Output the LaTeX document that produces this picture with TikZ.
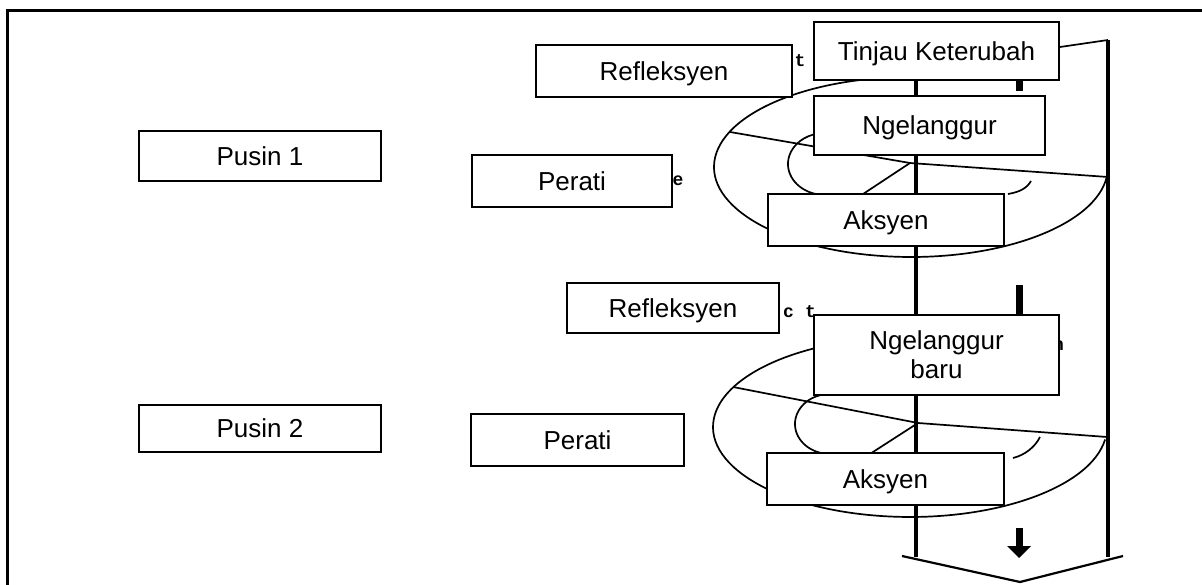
\documentclass[tikz,border=0pt]{standalone}
\usepackage{fontspec}
\setmainfont{Liberation Sans}
\newfontfamily\fragfont{Liberation Mono}
\usetikzlibrary{calc}
\pgfdeclarelayer{background}
\pgfsetlayers{background,main}
\begin{document}
\begin{tikzpicture}[x=1pt,y=-1pt,
  bx/.style={draw, line width=2pt, fill=white, inner sep=0pt,
    font=\fontsize{26}{29.3}\selectfont, text height=18.6pt, text depth=0pt},
  bxm/.style={draw, line width=2pt, fill=white, inner sep=0pt,
    font=\fontsize{26}{29.3}\selectfont, align=center},
  spiral/.style={line width=1.7pt},
  spine/.style={line width=3.8pt},
  frameline/.style={line width=2.2pt},
  stub/.style={line width=7pt},
  frag/.style={font=\fragfont\bfseries\fontsize{18}{18}\selectfont, inner sep=0pt}
]
\useasboundingbox (0,0) rectangle (1202,585);

% boxes
\node[bx, minimum width=242pt, minimum height=50pt] (p1) at (260,156) {Pusin 1};
\node[bx, minimum width=242pt, minimum height=47pt] (p2) at (260,428.5) {Pusin 2};
\node[bx, minimum width=256pt, minimum height=52pt] (r1) at (664,71) {Refleksyen};
\node[bx, minimum width=200pt, minimum height=52pt] (pe1) at (572,181) {Perati};
\node[bx, minimum width=212pt, minimum height=50pt] (r2) at (673,308) {Refleksyen};
\node[bx, minimum width=213pt, minimum height=52pt] (pe2) at (577.5,440) {Perati};
\node[bx, minimum width=245pt, minimum height=58pt] (tk) at (936.5,51) {Tinjau Keterubah};
\node[bx, minimum width=231pt, minimum height=59pt] (ng) at (929.5,125.5) {Ngelanggur};
\node[bx, minimum width=236pt, minimum height=52pt] (ak1) at (886,220) {Aksyen};
\node[bxm, minimum width=245pt, minimum height=80pt] (nb) at (936.5,355) {Ngelanggur\\baru};
\node[bx, minimum width=237pt, minimum height=52pt] (ak2) at (885.5,479) {Aksyen};

\begin{pgfonlayer}{background}
  % frame
  \draw[frameline] (1202,10.5) -- (7.5,10.5) -- (7.5,585);

  % spine and right rail
  \coordinate (sb) at (916,557);
  \draw[spine] (sb |- tk.south) -- (sb);
  \coordinate (rt) at (1108,40);
  \coordinate (rb) at (1108,557);
  \draw[spiral] ($(tk.east)+(0,-4)$) -- (rt);
  \draw[spine] (rt) -- (rb);

  % bottom chevron
  \coordinate (vl) at (902,556);
  \coordinate (vm) at (1020,582);
  \coordinate (vr) at (1123,556);
  \draw[frameline] (vl) -- (vm) -- (vr);

  % stubs and arrow
  \draw[stub] (1019,75) -- (1019,91);
  \draw[stub] (1019,285) -- (1019,318);
  \fill (1015.5,528) rectangle (1022.5,548);
  \fill (1007,546) -- (1031,546) -- (1019,558) -- cycle;

  % spiral 1
  \coordinate (c1) at (910,163);
  \draw[spiral] (1106.9,176.4) arc[start angle=6, end angle=276, x radius=197, y radius=90];
  \draw[spiral] (730,132) -- (c1) -- (1108,177);
  \draw[spiral] (c1) -- (857,198);
  \draw[spiral] (815.4,193.9) arc[start angle=105, end angle=260, x radius=37, y radius=31];
  \draw[spiral] (1008,194) .. controls (1020,192) and (1027,188) .. (1031,181);

  % spiral 2
  \coordinate (c2) at (918,423);
  \draw[spiral] (1105.1,439.5) arc[start angle=8, end angle=300, x radius=197, y radius=90];
  \draw[spiral] (733,387) -- (c2) -- (1107,437);
  \draw[spiral] (c2) -- (866,456.5);
  \draw[spiral] (823.9,453.5) arc[start angle=100, end angle=255, x radius=35, y radius=30];
  \draw[spiral] (1013,458) .. controls (1025,455) and (1035,447) .. (1040,437);

  % leftover glyph fragments
  \node[frag] (f1) at (800,61) {t};
  \node[frag, anchor=base] (f2) at (799.5,318) {c\hspace{11pt}t};
  \node[frag] (f3) at (678,181) {e};
  \node[frag, anchor=base east] (f4) at (1064,350) {n};
\end{pgfonlayer}
\end{tikzpicture}
\end{document}
